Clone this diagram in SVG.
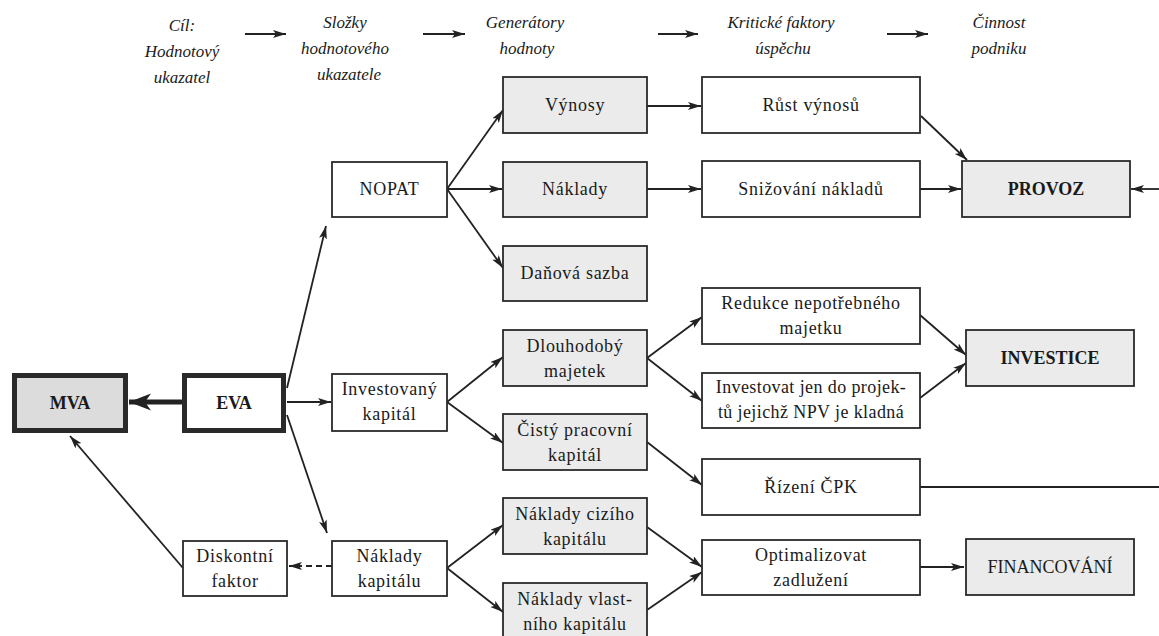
<svg xmlns="http://www.w3.org/2000/svg" width="1159" height="636" viewBox="0 0 1159 636" font-family="Liberation Serif, serif">
  <defs>
    <marker id="arr" markerUnits="userSpaceOnUse" markerWidth="14" markerHeight="9" refX="13" refY="4" orient="auto">
      <path d="M0,0 L13,4 L0,8 L3,4 z" fill="#222"/>
    </marker>
    <marker id="arrBig" markerUnits="userSpaceOnUse" markerWidth="24" markerHeight="18" refX="22" refY="8.5" orient="auto">
      <path d="M0,0 L22,8.5 L0,17 L6,8.5 z" fill="#222"/>
    </marker>
    <style>
      .box { fill: #ffffff; stroke: #2a2a2a; stroke-width: 1.8; }
      .grey { fill: #ebebeb; }
      .thick { stroke-width: 5; }
      .t { font-size: 18px; fill: #1a1a1a; text-anchor: middle; letter-spacing: 0.7px; }
      .b { font-weight: bold; letter-spacing: 0; }
      .h { font-size: 17px; font-style: italic; fill: #1a1a1a; text-anchor: middle; }
      .c { fill: none; stroke: #222; stroke-width: 1.8; marker-end: url(#arr); }
      .plain { fill: none; stroke: #222; stroke-width: 1.8; }
    </style>
  </defs>

  <!-- column headings -->
  <g id="headings" font-family="Liberation Serif, serif">
    <text class="h" x="182" y="31">Cíl:</text>
    <text class="h" x="182" y="57">Hodnotový</text>
    <text class="h" x="182" y="83">ukazatel</text>
    <text class="h" x="345" y="28">Složky</text>
    <text class="h" x="345" y="54">hodnotového</text>
    <text class="h" x="349" y="80">ukazatele</text>
    <text class="h" x="525" y="28">Generátory</text>
    <text class="h" x="527" y="54">hodnoty</text>
    <text class="h" x="781" y="28">Kritické faktory</text>
    <text class="h" x="783" y="54">úspěchu</text>
    <text class="h" x="999" y="28">Činnost</text>
    <text class="h" x="999" y="54">podniku</text>
    <line class="c" x1="245" y1="34" x2="286" y2="34"/>
    <line class="c" x1="423" y1="34" x2="465" y2="34"/>
    <line class="c" x1="658" y1="34" x2="698" y2="34"/>
    <line class="c" x1="887" y1="34" x2="928" y2="34"/>
  </g>

  <!-- connectors -->
  <g id="connectors">
    <line fill="none" stroke="#222" stroke-width="5" marker-end="url(#arrBig)" x1="182" y1="402" x2="129" y2="402"/>
    <line class="c" x1="287" y1="388" x2="326" y2="226"/>
    <line class="c" x1="287" y1="402" x2="331" y2="402"/>
    <line class="c" x1="287" y1="415" x2="327" y2="533"/>
    <line class="c" x1="183" y1="568" x2="70" y2="436"/>
    <line class="c" x1="332" y1="566" x2="289" y2="566" stroke-dasharray="6 4"/>
    <line class="c" x1="447" y1="189" x2="503" y2="110"/>
    <line class="c" x1="447" y1="189" x2="502" y2="189"/>
    <line class="c" x1="447" y1="189" x2="503" y2="268"/>
    <line class="c" x1="447" y1="402" x2="503" y2="357"/>
    <line class="c" x1="447" y1="402" x2="503" y2="443"/>
    <line class="c" x1="447" y1="568" x2="503" y2="525"/>
    <line class="c" x1="447" y1="568" x2="503" y2="612"/>
    <line class="c" x1="647" y1="106" x2="701" y2="106"/>
    <line class="c" x1="647" y1="189" x2="701" y2="189"/>
    <line class="c" x1="647" y1="358" x2="702" y2="317"/>
    <line class="c" x1="647" y1="358" x2="702" y2="401"/>
    <line class="c" x1="647" y1="442" x2="702" y2="485"/>
    <line class="c" x1="647" y1="527" x2="702" y2="567"/>
    <line class="c" x1="647" y1="610" x2="702" y2="572"/>
    <line class="c" x1="921" y1="116" x2="967" y2="160"/>
    <line class="c" x1="920" y1="189" x2="961" y2="189"/>
    <line class="c" x1="1159" y1="189" x2="1131" y2="189"/>
    <line class="c" x1="920" y1="315" x2="966" y2="355"/>
    <line class="c" x1="920" y1="398" x2="966" y2="363"/>
    <line class="plain" x1="920" y1="487" x2="1159" y2="487"/>
    <line class="c" x1="920" y1="567" x2="964" y2="567"/>
  </g>

  <g id="mva" font-family="Liberation Serif, serif">
    <rect class="box thick" x="14.5" y="375.5" width="111" height="55" style="fill:#dcdcdc"/>
    <text class="t b" x="70" y="409">MVA</text>
  </g>
  <g id="eva" font-family="Liberation Serif, serif">
    <rect class="box thick" x="184.5" y="375.5" width="99" height="55"/>
    <text class="t b" x="234" y="409">EVA</text>
  </g>
  <g id="nopat" font-family="Liberation Serif, serif">
    <rect class="box" x="332" y="162" width="115" height="55"/>
    <text class="t" x="389.5" y="195">NOPAT</text>
  </g>
  <g id="investovany-kapital" font-family="Liberation Serif, serif">
    <rect class="box" x="332" y="374" width="115" height="57"/>
    <text class="t" x="389.5" y="395">Investovaný</text>
    <text class="t" x="389.5" y="420">kapitál</text>
  </g>
  <g id="naklady-kapitalu" font-family="Liberation Serif, serif">
    <rect class="box" x="332" y="541" width="115" height="55"/>
    <text class="t" x="389.5" y="562">Náklady</text>
    <text class="t" x="389.5" y="587">kapitálu</text>
  </g>
  <g id="diskontni-faktor" font-family="Liberation Serif, serif">
    <rect class="box" x="183" y="541" width="104" height="55"/>
    <text class="t" x="235" y="562">Diskontní</text>
    <text class="t" x="235" y="587">faktor</text>
  </g>

  <g id="vynosy" font-family="Liberation Serif, serif">
    <rect class="box grey" x="503" y="77" width="144" height="56"/>
    <text class="t" x="575" y="111">Výnosy</text>
  </g>
  <g id="naklady" font-family="Liberation Serif, serif">
    <rect class="box grey" x="503" y="162" width="144" height="55"/>
    <text class="t" x="575" y="195">Náklady</text>
  </g>
  <g id="danova-sazba" font-family="Liberation Serif, serif">
    <rect class="box grey" x="503" y="246" width="144" height="55"/>
    <text class="t" x="575" y="279">Daňová sazba</text>
  </g>
  <g id="dlouhodoby-majetek" font-family="Liberation Serif, serif">
    <rect class="box grey" x="503" y="330" width="144" height="56"/>
    <text class="t" x="575" y="352">Dlouhodobý</text>
    <text class="t" x="575" y="377">majetek</text>
  </g>
  <g id="cisty-pracovni-kapital" font-family="Liberation Serif, serif">
    <rect class="box grey" x="503" y="414" width="144" height="56"/>
    <text class="t" x="575" y="436">Čistý pracovní</text>
    <text class="t" x="575" y="461">kapitál</text>
  </g>
  <g id="naklady-ciziho-kapitalu" font-family="Liberation Serif, serif">
    <rect class="box grey" x="503" y="498" width="144" height="56"/>
    <text class="t" x="575" y="520">Náklady cizího</text>
    <text class="t" x="575" y="545">kapitálu</text>
  </g>
  <g id="naklady-vlastniho-kapitalu" font-family="Liberation Serif, serif">
    <rect class="box grey" x="503" y="583" width="144" height="58"/>
    <text class="t" x="575" y="605">Náklady vlast-</text>
    <text class="t" x="575" y="630">ního kapitálu</text>
  </g>

  <g id="rust-vynosu" font-family="Liberation Serif, serif">
    <rect class="box" x="702" y="77" width="218" height="56"/>
    <text class="t" x="811" y="111">Růst výnosů</text>
  </g>
  <g id="snizovani-nakladu" font-family="Liberation Serif, serif">
    <rect class="box" x="702" y="161" width="218" height="56"/>
    <text class="t" x="811" y="195">Snižování nákladů</text>
  </g>
  <g id="redukce-majetku" font-family="Liberation Serif, serif">
    <rect class="box" x="702" y="288" width="218" height="56"/>
    <text class="t" x="811" y="309">Redukce nepotřebného</text>
    <text class="t" x="811" y="334">majetku</text>
  </g>
  <g id="investovat-npv" font-family="Liberation Serif, serif">
    <rect class="box" x="702" y="373" width="218" height="55"/>
    <text class="t" x="811" y="393" style="letter-spacing:0.4px">Investovat jen do projek-</text>
    <text class="t" x="811" y="418" style="letter-spacing:0.4px">tů jejichž NPV je kladná</text>
  </g>
  <g id="rizeni-cpk" font-family="Liberation Serif, serif">
    <rect class="box" x="702" y="459" width="218" height="56"/>
    <text class="t" x="811" y="493">Řízení ČPK</text>
  </g>
  <g id="optimalizovat-zadluzeni" font-family="Liberation Serif, serif">
    <rect class="box" x="702" y="540" width="218" height="55"/>
    <text class="t" x="811" y="561">Optimalizovat</text>
    <text class="t" x="811" y="586">zadlužení</text>
  </g>

  <g id="provoz" font-family="Liberation Serif, serif">
    <rect class="box grey" x="962" y="161" width="168" height="56"/>
    <text class="t b" x="1046" y="195">PROVOZ</text>
  </g>
  <g id="investice" font-family="Liberation Serif, serif">
    <rect class="box grey" x="966" y="330" width="168" height="56"/>
    <text class="t b" x="1050" y="364">INVESTICE</text>
  </g>
  <g id="financovani" font-family="Liberation Serif, serif">
    <rect class="box grey" x="966" y="539" width="168" height="56"/>
    <text class="t" x="1050" y="573" style="letter-spacing:0">FINANCOVÁNÍ</text>
  </g>
</svg>
